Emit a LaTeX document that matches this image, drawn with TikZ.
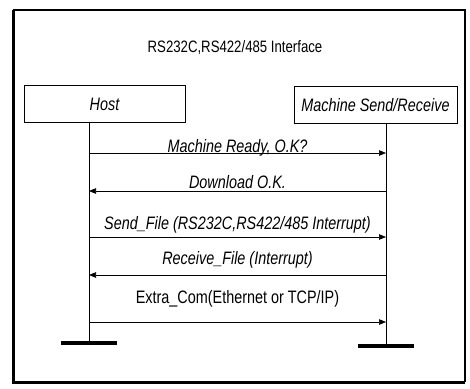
\documentclass[tikz,border=0pt]{standalone}
\usepackage{fontspec}
\setmainfont{Liberation Sans}[FakeStretch=0.8]
\usetikzlibrary{arrows.meta,positioning}

\begin{document}
\begin{tikzpicture}[x=1pt, y=-1pt, >={Triangle[length=7pt,width=5.5pt]},
    every node/.style={font=\fontsize{18}{20}\selectfont},
    actor/.style={draw, line width=0.9pt, minimum height=37pt, inner sep=0pt},
    bar/.style={fill=black, minimum width=56pt, minimum height=4.5pt, inner sep=0pt},
    msg/.style={line width=0.7pt},
    lbl/.style={font=\fontsize{18}{20}\selectfont\itshape, anchor=base}]
      \useasboundingbox (0,0) rectangle (470,388);

      % outer frame
      \draw[line width=1.2pt] (13,10) -- (465,10) -- (465,382);
      \draw[line width=3pt] (13,10) -- (13,382) -- (465,382);

      \node[font=\fontsize{16.5}{18}\selectfont] (title) at (235,48) {RS232C,RS422/485 Interface};
      \node[actor, minimum width=161pt] (host) at (104.5,104) {\itshape Host};
      \node[actor, minimum width=163pt] (mach) at (375.5,105) {\itshape Machine Send/Receive};
      \node[bar] (hbar) at (89,343) {};
      \node[bar] (mbar) at (386,346) {};

      % lifelines
      \draw[msg] (host.south -| hbar) -- (hbar.north);
      \draw[msg] (mach.south -| mbar) -- (mbar.north);

      \foreach \n/\y in {1/153,2/191,3/237,4/275,5/322} {
        \coordinate (h\n) at (hbar |- 0,\y);
        \coordinate (m\n) at (mbar |- 0,\y);
      }

      \draw[msg,->] (h1) -- node[lbl, yshift=0.6pt] {Machine Ready, O.K?} (m1);
      \draw[msg,->] (m2) -- node[lbl, yshift=2.6pt] {Download O.K.} (h2);
      \draw[msg,->] (h3) -- node[lbl, yshift=7.6pt] {Send\_File (RS232C,RS422/485 Interrupt)} (m3);
      \draw[msg,->] (m4) -- node[lbl, yshift=10.6pt] {Receive\_File (Interrupt)} (h4);
      \draw[msg,->] (h5) -- node[lbl, yshift=18.6pt, font=\fontsize{18}{20}\selectfont\upshape] {Extra\_Com(Ethernet or TCP/IP)} (m5);
    \end{tikzpicture}
\end{document}
